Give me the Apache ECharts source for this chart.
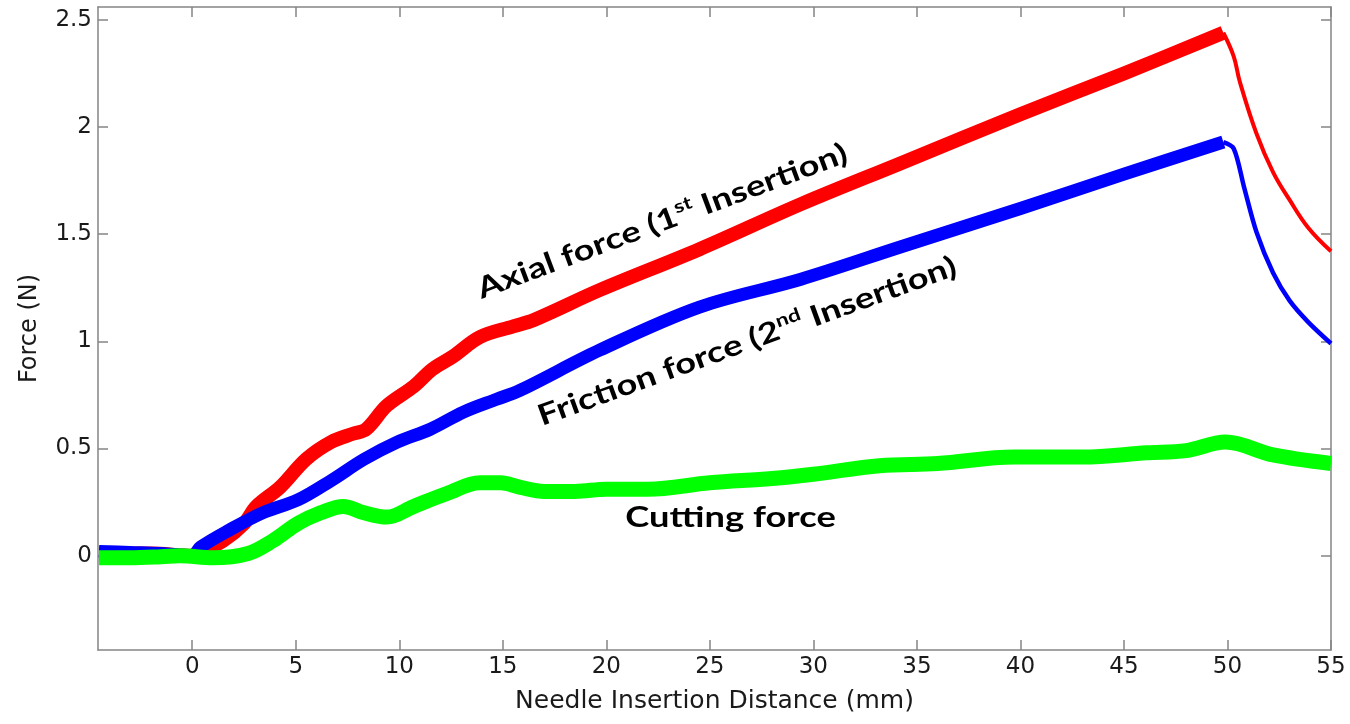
<!DOCTYPE html>
<html>
<head>
<meta charset="utf-8">
<title>Needle insertion forces</title>
<script src="https://cdn.jsdelivr.net/npm/echarts@6/dist/echarts.min.js"></script>
<style>
  html, body { margin: 0; padding: 0; background: #fff; }
  #chart { width: 1350px; height: 724px; }
</style>
</head>
<body>
<div id="chart"></div>
<script>
  // distance in mm, force in N
  var xTicks = [0, 5, 10, 15, 20, 25, 30, 35, 40, 45, 50, 55]
  var yTicks = [0, 0.5, 1, 1.5, 2, 2.5]

  // axial force, 1st insertion
  var axialDist = [-4.5, -2, 0, 0.3, 1.5, 2.5, 3.1, 4.25, 5.5, 6.7, 7.8, 8.4, 9.4, 10.7, 11.6, 12.6, 13.9, 15.5, 16.5, 19.7, 24.5, 29.4, 34.2, 40, 45, 49.8]
  var axialForce = [0.01, 0.01, 0.0, 0.01, 0.07, 0.15, 0.23, 0.32, 0.45, 0.53, 0.57, 0.59, 0.70, 0.79, 0.87, 0.93, 1.02, 1.07, 1.10, 1.24, 1.43, 1.64, 1.83, 2.06, 2.25, 2.44]
  // after the needle stops (relaxation)
  var axialRelDist = [49.8, 50.3, 50.6, 51.4, 52.2, 53.0, 53.9, 55]
  var axialRelForce = [2.44, 2.33, 2.21, 1.97, 1.79, 1.66, 1.53, 1.42]

  // friction force, 2nd insertion
  var frictionDist = [-4.5, -3, -1.5, 0, 0.4, 1.8, 3.4, 5.1, 6.7, 8.3, 9.9, 11.5, 13.1, 14.7, 15.8, 19.7, 24.5, 29.4, 34.2, 40, 45, 49.8]
  var frictionForce = [0.02, 0.015, 0.01, 0.0, 0.04, 0.12, 0.20, 0.26, 0.35, 0.45, 0.53, 0.59, 0.67, 0.73, 0.77, 0.96, 1.16, 1.29, 1.44, 1.62, 1.78, 1.93]
  var frictionRelDist = [49.8, 50.3, 50.8, 51.4, 52.2, 53.0, 53.9, 55]
  var frictionRelForce = [1.93, 1.90, 1.72, 1.51, 1.32, 1.19, 1.09, 0.99]

  // cutting force
  var cuttingDist = [-4.5, -3, -1.5, -0.6, 1.0, 2.7, 3.9, 5.1, 6.2, 7.3, 8.3, 9.4, 10.7, 12.3, 13.9, 14.9, 15.8, 17, 18.5, 20, 22, 25, 28, 30, 33.2, 36, 39.7, 43, 46.1, 48, 49.9, 52.2, 55]
  var cuttingForce = [-0.01, -0.01, -0.005, 0.0, -0.01, 0.01, 0.07, 0.15, 0.20, 0.23, 0.20, 0.18, 0.23, 0.29, 0.34, 0.34, 0.32, 0.30, 0.30, 0.31, 0.31, 0.34, 0.36, 0.38, 0.42, 0.43, 0.46, 0.46, 0.48, 0.49, 0.53, 0.47, 0.43]

  // text notes on the plot, anchored in data space
  var noteText = [
    '{b|Axial force (1}{sup|st}{b| Insertion)}',
    '{b|Friction force (2}{sup|nd}{b| Insertion)}',
    '{b|Cutting force}'
  ]
  var noteAt = [[22.7, 1.56], [26.8, 1.0], [26.0, 0.177]]
  var noteAngle = [20.5, 20, 0]

  var axisGray = '#858585'
  var textFont = 'DejaVu Sans'
  var noteFont = 'Lato'

  function pairs(xs, ys) {
    return xs.map(function (x, i) { return [x, ys[i]] })
  }

  function lineSeries(name, data, color, width, smooth) {
    return {
      name: name,
      type: 'line',
      data: data,
      symbol: 'none',
      smooth: smooth,
      lineStyle: { color: color, width: width, join: 'round', cap: 'butt' },
      emphasis: { disabled: true }
    }
  }

  var chart = echarts.init(document.getElementById('chart'))

  var xBase = {
    type: 'value',
    min: -4.55,
    max: 55,
    splitLine: { show: false },
    axisLine: { show: true, onZero: false, lineStyle: { color: axisGray, width: 1.5 } },
    axisTick: { show: true, inside: true, length: 10, customValues: xTicks, lineStyle: { color: axisGray, width: 1.5 } }
  }
  var yBase = {
    type: 'value',
    min: -0.44,
    max: 2.56,
    splitLine: { show: false },
    axisLine: { show: true, onZero: false, lineStyle: { color: axisGray, width: 1.5 } },
    axisTick: { show: true, inside: true, length: 10, customValues: yTicks, lineStyle: { color: axisGray, width: 1.5 } }
  }

  chart.setOption({
    animation: false,
    backgroundColor: '#fff',
    grid: { left: 98, right: 19, top: 7, bottom: 74 },
    xAxis: [
      Object.assign({}, xBase, {
        position: 'bottom',
        axisLabel: { customValues: xTicks, color: '#1a1a1a', fontSize: 23, fontFamily: textFont, margin: 6 },
        name: 'Needle Insertion Distance (mm)',
        nameLocation: 'middle',
        nameGap: 39,
        nameTextStyle: { color: '#1a1a1a', fontSize: 25, fontFamily: textFont }
      }),
      Object.assign({}, xBase, { position: 'top', axisLabel: { show: false } })
    ],
    yAxis: [
      Object.assign({}, yBase, {
        position: 'left',
        axisLabel: { customValues: yTicks, color: '#1a1a1a', fontSize: 23, fontFamily: textFont, margin: 6 },
        name: 'Force (N)',
        nameLocation: 'middle',
        nameGap: 56,
        nameTextStyle: { color: '#1a1a1a', fontSize: 24, fontFamily: textFont }
      }),
      Object.assign({}, yBase, { position: 'right', axisLabel: { show: false } })
    ],
    series: [
      lineSeries('Axial force', pairs(axialDist, axialForce), '#ff0000', 14, 0.35),
      lineSeries('Axial force relax', pairs(axialRelDist, axialRelForce), '#ff0000', 4, 0.4),
      lineSeries('Friction force', pairs(frictionDist, frictionForce), '#0000ff', 13, 0.35),
      lineSeries('Friction force relax', pairs(frictionRelDist, frictionRelForce), '#0000ff', 4.5, 0.3),
      lineSeries('Cutting force', pairs(cuttingDist, cuttingForce), '#00ff00', 15, 0.35)
    ]
  })

  // notes: placed from data coordinates, stretched a little to match the wide lettering
  chart.setOption({
    graphic: noteText.map(function (t, i) {
      var p = chart.convertToPixel({ seriesIndex: 0 }, noteAt[i])
      return {
        type: 'text',
        x: p[0],
        y: p[1],
        rotation: noteAngle[i] * Math.PI / 180,
        scaleX: 1.25,
        silent: true,
        z: 100,
        style: {
          text: t,
          align: 'center',
          verticalAlign: 'middle',
          fill: '#000',
          rich: {
            b: { fontFamily: noteFont, fontWeight: 'bold', fontSize: 29, lineHeight: 34, fill: '#000' },
            sup: { fontFamily: noteFont, fontWeight: 'bold', fontSize: 18, lineHeight: 20, verticalAlign: 'top', fill: '#000' }
          }
        }
      }
    })
  })
</script>
</body>
</html>
